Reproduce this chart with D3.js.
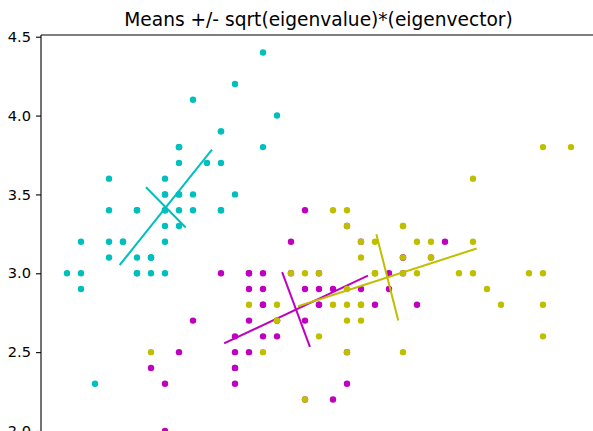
<!DOCTYPE html>
<html>
<head>
<meta charset="utf-8">
<script src="https://cdn.jsdelivr.net/npm/d3@7"></script>
<style>
  html, body { margin: 0; padding: 0; background: #fff; }
  svg { display: block; font-family: "DejaVu Sans", sans-serif; }
</style>
</head>
<body>
<svg id="chart" width="593" height="431"></svg>
<script>
// Iris sepal length / sepal width, one pair of arrays per species
const setosaLength = [5.1,4.9,4.7,4.6,5.0,5.4,4.6,5.0,4.4,4.9,5.4,4.8,4.8,4.3,5.8,5.7,5.4,5.1,5.7,5.1,5.4,5.1,4.6,5.1,4.8,5.0,5.0,5.2,5.2,4.7,4.8,5.4,5.2,5.5,4.9,5.0,5.5,4.9,4.4,5.1,5.0,4.5,4.4,5.0,5.1,4.8,5.1,4.6,5.3,5.0];
const setosaWidth  = [3.5,3.0,3.2,3.1,3.6,3.9,3.4,3.4,2.9,3.1,3.7,3.4,3.0,3.0,4.0,4.4,3.9,3.5,3.8,3.8,3.4,3.7,3.6,3.3,3.4,3.0,3.4,3.5,3.4,3.2,3.1,3.4,4.1,4.2,3.1,3.2,3.5,3.1,3.0,3.4,3.5,2.3,3.2,3.5,3.8,3.0,3.8,3.2,3.7,3.3];

const versicolorLength = [7.0,6.4,6.9,5.5,6.5,5.7,6.3,4.9,6.6,5.2,5.0,5.9,6.0,6.1,5.6,6.7,5.6,5.8,6.2,5.6,5.9,6.1,6.3,6.1,6.4,6.6,6.8,6.7,6.0,5.7,5.5,5.5,5.8,6.0,5.4,6.0,6.7,6.3,5.6,5.5,5.5,6.1,5.8,5.0,5.6,5.7,5.7,6.2,5.1,5.7];
const versicolorWidth  = [3.2,3.2,3.1,2.3,2.8,2.8,3.3,2.4,2.9,2.7,2.0,3.0,2.2,2.9,2.9,3.1,3.0,2.7,2.2,2.5,3.2,2.8,2.5,2.8,2.9,3.0,2.8,3.0,2.9,2.6,2.4,2.4,2.7,2.7,3.0,3.4,3.1,2.3,3.0,2.5,2.6,3.0,2.6,2.3,2.7,3.0,2.9,2.9,2.5,2.8];

const virginicaLength = [6.3,5.8,7.1,6.3,6.5,7.6,4.9,7.3,6.7,7.2,6.5,6.4,6.8,5.7,5.8,6.4,6.5,7.7,7.7,6.0,6.9,5.6,7.7,6.3,6.7,7.2,6.2,6.1,6.4,7.2,7.4,7.9,6.4,6.3,6.1,7.7,6.3,6.4,6.0,6.9,6.7,6.9,5.8,6.8,6.7,6.7,6.3,6.5,6.2,5.9];
const virginicaWidth  = [3.3,2.7,3.0,2.9,3.0,3.0,2.5,2.9,2.5,3.6,3.2,2.7,3.0,2.5,2.8,3.2,3.0,3.8,2.6,2.2,3.2,2.8,2.8,2.7,3.3,3.2,2.8,3.0,2.8,3.0,2.8,3.8,2.8,2.8,2.6,3.0,3.4,3.1,3.0,3.1,3.1,3.1,2.7,3.2,3.3,3.0,2.5,3.0,3.4,3.0];

const speciesColors = ["#00bfbf", "#bf00bf", "#bfbf00"];
const yTickValues = [2.0, 2.5, 3.0, 3.5, 4.0, 4.5];
const titleText = "Means +/- sqrt(eigenvalue)*(eigenvector)";

const species = [
  { x: setosaLength, y: setosaWidth, color: speciesColors[0] },
  { x: versicolorLength, y: versicolorWidth, color: speciesColors[1] },
  { x: virginicaLength, y: virginicaWidth, color: speciesColors[2] }
];

// Axes frame (right and bottom edges fall outside the canvas)
const plotLeft = 41, plotTop = 35, plotRight = 596, plotBottom = 450;

const x = d3.scaleLinear().domain([4.3, 7.9]).range([67, 571]);
const y = d3.scaleLinear().domain([2.0, 4.5]).range([431, 36.7]);

const svg = d3.select("#chart");

// Sample mean and covariance, then the 2x2 symmetric eigen-decomposition
function principalAxes(xs, ys) {
  const n = xs.length;
  const mx = d3.mean(xs), my = d3.mean(ys);
  let sxx = 0, syy = 0, sxy = 0;
  for (let i = 0; i < n; i++) {
    const dx = xs[i] - mx, dy = ys[i] - my;
    sxx += dx * dx; syy += dy * dy; sxy += dx * dy;
  }
  sxx /= (n - 1); syy /= (n - 1); sxy /= (n - 1);
  const tr = sxx + syy, det = sxx * syy - sxy * sxy;
  const disc = Math.sqrt(tr * tr / 4 - det);
  const lambdas = [tr / 2 + disc, tr / 2 - disc];
  return {
    mean: [mx, my],
    axes: lambdas.map(l => {
      let vx = sxy, vy = l - sxx;
      if (Math.abs(sxy) < 1e-12) { vx = sxx >= syy ? 1 : 0; vy = 1 - vx; }
      const norm = Math.hypot(vx, vy);
      const s = Math.sqrt(l);
      return [s * vx / norm, s * vy / norm];
    })
  };
}

svg.append("defs").append("clipPath").attr("id", "plot-clip")
  .append("rect")
  .attr("x", plotLeft).attr("y", plotTop)
  .attr("width", plotRight - plotLeft).attr("height", plotBottom - plotTop);

const plot = svg.append("g").attr("clip-path", "url(#plot-clip)");

species.forEach(sp => {
  const g = plot.append("g");
  g.selectAll("circle")
    .data(d3.range(sp.x.length))
    .join("circle")
    .attr("cx", i => x(sp.x[i]))
    .attr("cy", i => y(sp.y[i]))
    .attr("r", 3.2)
    .attr("fill", sp.color);

  const pa = principalAxes(sp.x, sp.y);
  pa.axes.forEach(v => {
    g.append("line")
      .attr("x1", x(pa.mean[0] - v[0])).attr("y1", y(pa.mean[1] - v[1]))
      .attr("x2", x(pa.mean[0] + v[0])).attr("y2", y(pa.mean[1] + v[1]))
      .attr("stroke", sp.color)
      .attr("stroke-width", 2)
      .attr("stroke-linecap", "square");
  });
});

// Left axis with ticks
const yAxis = d3.axisLeft(y).tickValues(yTickValues).tickFormat(d3.format(".1f"))
  .tickSize(5).tickPadding(5);
const yAxisG = svg.append("g").attr("transform", `translate(${plotLeft},0)`).call(yAxis);
yAxisG.select(".domain").remove();
yAxisG.selectAll("text").attr("font-size", "14.6px").attr("fill", "#000")
  .attr("font-family", "DejaVu Sans, sans-serif");
yAxisG.selectAll("line").attr("stroke", "#000").attr("stroke-width", 1.1);

// Spines
svg.append("line").attr("x1", plotLeft).attr("y1", plotTop).attr("x2", plotLeft).attr("y2", plotBottom)
  .attr("stroke", "#000").attr("stroke-width", 1.1);
svg.append("line").attr("x1", plotLeft).attr("y1", plotTop).attr("x2", plotRight).attr("y2", plotTop)
  .attr("stroke", "#000").attr("stroke-width", 1.1);

// Title
svg.append("text")
  .attr("x", (plotLeft + plotRight) / 2)
  .attr("y", 26)
  .attr("text-anchor", "middle")
  .attr("font-size", "18.6px")
  .attr("fill", "#000")
  .text(titleText);
</script>
</body>
</html>
